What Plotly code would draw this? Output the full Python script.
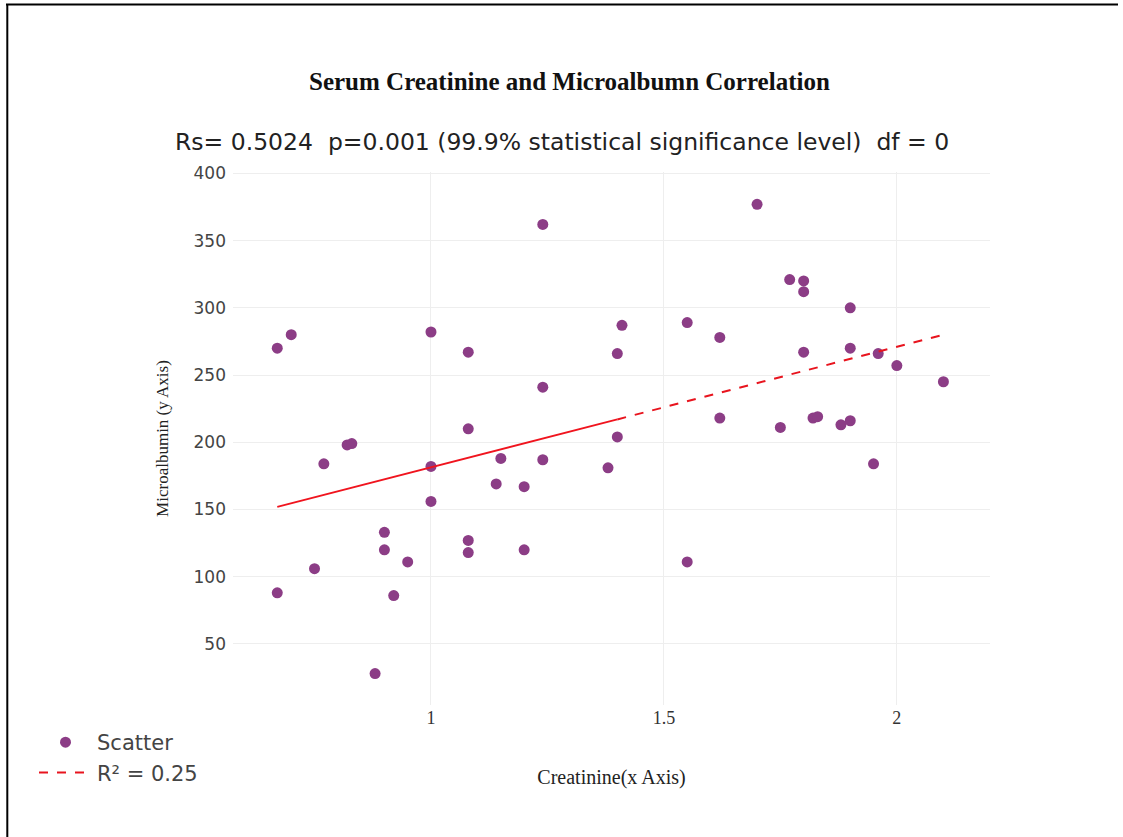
import plotly.graph_objects as go

creatinine = [0.67, 0.70, 1.00, 1.08, 1.24, 1.41, 1.40, 1.24, 1.08, 1.40,
              0.82, 0.83, 1.70, 1.77, 1.80, 1.80, 1.90, 1.55, 1.62, 1.80,
              1.90, 1.96, 2.00, 2.10, 1.62, 1.75, 1.82, 1.83, 1.88, 1.90,
              1.95, 1.55, 1.38, 0.77, 1.00, 1.15, 1.24, 1.14, 1.20, 1.00,
              0.90, 0.90, 0.95, 1.08, 1.08, 1.20, 0.75, 0.67, 0.92, 0.88]
microalbumin = [270, 280, 282, 267, 362, 287, 266, 241, 210, 204,
                198, 199, 377, 321, 320, 312, 300, 289, 278, 267,
                270, 266, 257, 245, 218, 211, 218, 219, 213, 216,
                184, 111, 181, 184, 182, 188, 187, 169, 167, 156,
                133, 120, 111, 127, 118, 120, 106, 88, 86, 28]

trend_solid_x = [0.67, 1.40]
trend_solid_y = [152, 217]
trend_dash_x = [1.40, 2.10]
trend_dash_y = [217, 280]

title_text = "Serum Creatinine and Microalbumn Correlation"
subtitle_text = "Rs= 0.5024&nbsp; p=0.001 (99.9% statistical significance level)&nbsp; df = 0"

fig = go.Figure()
fig.add_trace(go.Scatter(x=creatinine, y=microalbumin, mode="markers", name="Scatter",
                         marker=dict(color="#8c3d86", size=11)))
fig.add_trace(go.Scatter(x=trend_solid_x, y=trend_solid_y, mode="lines", showlegend=False,
                         line=dict(color="#f0141e", width=1.8), hoverinfo="skip"))
fig.add_trace(go.Scatter(x=trend_dash_x, y=trend_dash_y, mode="lines", name="R² = 0.25",
                         line=dict(color="#e8141e", width=2, dash="dash")))

L, R, T, B = 233, 133, 172, 132
W, H = 1123, 837
pw, ph = W - L - R, H - T - B

def px2x(px):
    return (px - L) / pw

def py2y(py):
    return (H - B - py) / ph

fig.update_layout(
    width=W, height=H,
    margin=dict(l=L, r=R, t=T, b=B, autoexpand=False),
    paper_bgcolor="white", plot_bgcolor="white",
    font=dict(family="DejaVu Sans", size=16, color="#444"),
    showlegend=True,
    legend=dict(x=px2x(34), y=py2y(722), xanchor="left", yanchor="top",
                itemwidth=53,
                font=dict(size=21, color="#444"), bgcolor="rgba(0,0,0,0)"),
    xaxis=dict(range=[0.575, 2.2], tickvals=[1, 1.5, 2], ticktext=["1", "1.5", "2"],
               showgrid=True, gridcolor="#eeeeee", zeroline=False, showline=False,
               tickfont=dict(family="Liberation Serif", size=18, color="#333"),
               title=dict(text="Creatinine(x Axis)", standoff=42,
                          font=dict(family="Liberation Serif", size=20, color="#222"))),
    yaxis=dict(range=[4.6, 401], tickvals=[50, 100, 150, 200, 250, 300, 350, 400],
               showgrid=True, gridcolor="#eeeeee", zeroline=False, showline=False,
               ticklabelstandoff=6,
               tickfont=dict(size=17, color="#444"),
               title=dict(text="Microalbumin (y Axis)", standoff=20,
                          font=dict(family="Liberation Serif", size=17, color="#222"))),
    annotations=[
        dict(text="<b>" + title_text + "</b>", xref="paper", yref="paper",
             x=px2x(569), y=py2y(82), xanchor="center", yanchor="middle", showarrow=False,
             font=dict(family="Liberation Serif", size=25, color="#111")),
        dict(text=subtitle_text, xref="paper", yref="paper",
             x=px2x(562), y=py2y(142), xanchor="center", yanchor="middle", showarrow=False,
             font=dict(family="DejaVu Sans", size=23.5, color="#222")),
    ],
    shapes=[
        dict(type="line", xref="paper", yref="paper", x0=px2x(6), x1=px2x(1118),
             y0=py2y(4.5), y1=py2y(4.5), line=dict(color="black", width=2)),
        dict(type="line", xref="paper", yref="paper", x0=px2x(7.3), x1=px2x(7.3),
             y0=py2y(4), y1=py2y(840), line=dict(color="black", width=2)),
    ],
)

fig.write_html("out.html")
